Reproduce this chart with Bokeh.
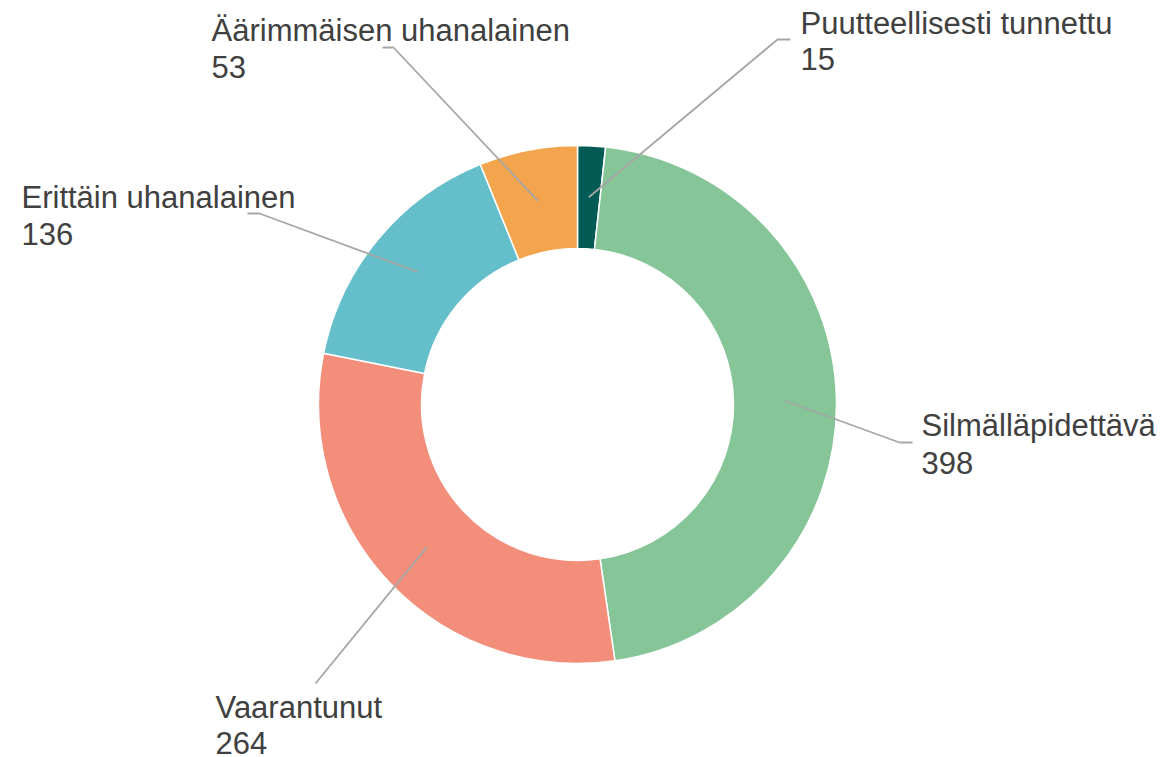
import math
from bokeh.plotting import figure
from bokeh.models import Range1d, ColumnDataSource
from bokeh.core.properties import value
from bokeh.embed import file_html
from bokeh.resources import INLINE

# ---- data ----
categories = ["Puutteellisesti tunnettu", "Silmälläpidettävä", "Vaarantunut",
              "Erittäin uhanalainen", "Äärimmäisen uhanalainen"]
counts = [15, 398, 264, 136, 53]
colors = ["#025b55", "#86c598", "#f28e7a", "#64bfca", "#f3a54e"]

# ---- layout (page pixel coords, y downward) ----
W, H = 1169, 757
cx_px, cy_px = 577, 404
R_OUT, R_IN = 259, 156
FONT_PX = 31
TEXT_SHIFT = 10  # renderer places alphabetic baseline lower than requested
# label text x, baseline line1, baseline line2, elbow (x,y), end (x,y)
label_layout = [
    (800, 33, 68, (777, 39), (790, 39)),
    (921, 435, 472, (899, 442), (912, 442)),
    (215, 717, 752, (315, 683), (315, 683)),
    (21, 207, 243, (259, 213), (247, 213)),
    (211, 40, 76, (393, 47), (382, 47)),
]

def fy(Y):
    return H - Y

p = figure(width=W, height=H, output_backend="svg", toolbar_location=None,
           x_range=Range1d(0, W), y_range=Range1d(0, H),
           min_border=0, x_axis_location=None, y_axis_location=None)
p.grid.visible = False
p.outline_line_color = None
p.background_fill_color = "white"
p.border_fill_color = "white"

total = sum(counts)
starts, ends, mids = [], [], []
cum = 0
for c in counts:
    a0 = 2 * math.pi * cum / total
    cum += c
    a1 = 2 * math.pi * cum / total
    starts.append(math.pi / 2 - a0)
    ends.append(math.pi / 2 - a1)
    mids.append((a0 + a1) / 2)

src = ColumnDataSource(dict(x=[cx_px] * len(counts), y=[fy(cy_px)] * len(counts),
                            start=starts, end=ends, color=colors))
p.annular_wedge(x="x", y="y", inner_radius=R_IN, outer_radius=R_OUT,
                start_angle="start", end_angle="end", direction="clock",
                fill_color="color", line_color="white", line_width=1.5, source=src)

# leader lines
xs, ys = [], []
r_mid = (R_IN + R_OUT) / 2
for m, lay in zip(mids, label_layout):
    sx = cx_px + r_mid * math.sin(m)
    sy = cy_px - r_mid * math.cos(m)
    (ex, ey), (tx, ty) = lay[3], lay[4]
    xs.append([sx, ex, tx])
    ys.append([fy(sy), fy(ey), fy(ty)])
p.multi_line(xs=xs, ys=ys, line_color="#a6a6a6", line_width=1.8)

# labels
tx = [l[0] for l in label_layout]
p.text(x=tx, y=[fy(l[1] - TEXT_SHIFT) for l in label_layout], text=categories,
       text_font=value("Liberation Sans"), text_font_size=f"{FONT_PX}px",
       text_color="#404040", text_baseline="alphabetic", text_align="left")
p.text(x=tx, y=[fy(l[2] - TEXT_SHIFT) for l in label_layout], text=[str(c) for c in counts],
       text_font=value("Liberation Sans"), text_font_size=f"{FONT_PX}px",
       text_color="#404040", text_baseline="alphabetic", text_align="left")

open("out.html", "w").write(file_html(p, INLINE))
